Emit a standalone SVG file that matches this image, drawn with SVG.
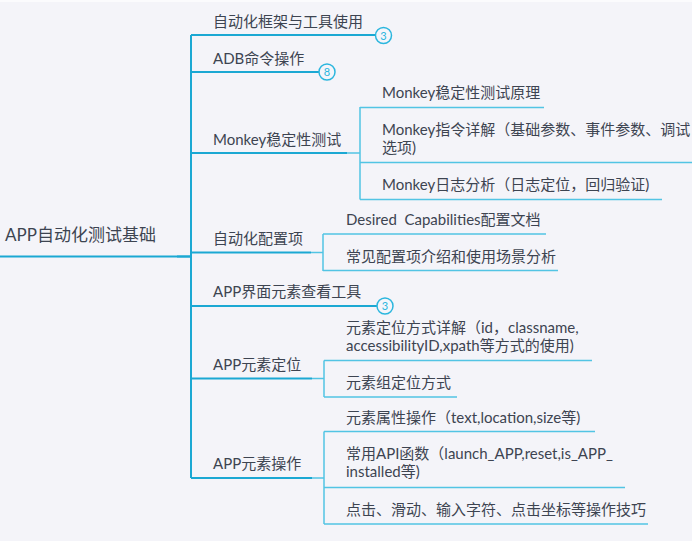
<svg xmlns="http://www.w3.org/2000/svg" width="692" height="541" viewBox="0 0 692 541">
<style>
text{font-family:Lato,"Noto Sans CJK SC",sans-serif;font-size:15px;fill:#3d4451;}
.root{font-size:17px;}
.main{stroke:#1ba8d3;stroke-width:2;fill:none;}
.sub{stroke:#52c4e4;stroke-width:1.5;fill:none;}
.badge circle{fill:#f5f5fa;stroke:#2bb6de;stroke-width:1.5;}
.badge text{font-size:11px;fill:#2bb6de;text-anchor:middle;}
</style>
<rect x="0" y="0" width="692" height="541" fill="#f4f4f9"/>
<rect x="0" y="0" width="692" height="2" fill="#fbfbfd"/>
<g id="connectors">
<path class="main" d="M0 256.5H191"/>
<path class="main" stroke-width="3.5" d="M177 256.5H191"/>
<path class="main" stroke-width="2.5" d="M191 35V478"/>
<path class="main" d="M191 35H376"/>
<path class="main" d="M191 72H319"/>
<path class="main" d="M191 153H347"/>
<path class="main" d="M191 252.5H311"/>
<path class="main" d="M191 306H377"/>
<path class="main" d="M191 378.5H312"/>
<path class="main" d="M191 478H312"/>
<path class="sub" d="M347 153H360M360 107V199.5M360 107.5H544M360 162.5H692M360 199.5H662"/>
<path class="sub" d="M311 252.5H323M323 234V271M323 234H546M323 270.5H558"/>
<path class="sub" d="M312 378.5H324M324 360.5V397M324 360.5H592M324 397H457"/>
<path class="sub" d="M312 478H324M324 431.5V524M324 431.5H595M324 487.5H625M324 524H648"/>
</g>
<g id="root"><text class="root" x="5" y="241">APP自动化测试基础</text></g>
<g id="n1"><text x="213" y="27">自动化框架与工具使用</text>
<g class="badge"><circle cx="383.5" cy="35.5" r="8"/><text x="383.5" y="39.5">3</text></g></g>
<g id="n2"><text x="213" y="64">ADB命令操作</text>
<g class="badge"><circle cx="327" cy="72" r="8"/><text x="327" y="76">8</text></g></g>
<g id="n3"><text x="213" y="145">Monkey稳定性测试</text></g>
<g id="n3a"><text x="382" y="98">Monkey稳定性测试原理</text></g>
<g id="n3b"><text x="382" y="135">Monkey指令详解（基础参数、事件参数、调试</text><text x="382" y="153">选项)</text></g>
<g id="n3c"><text x="382" y="190">Monkey日志分析（日志定位，回归验证)</text></g>
<g id="n4"><text x="213" y="244">自动化配置项</text></g>
<g id="n4a"><text x="346" y="225" xml:space="preserve" style="white-space:pre">Desired  Capabilities配置文档</text></g>
<g id="n4b"><text x="346" y="262">常见配置项介绍和使用场景分析</text></g>
<g id="n5"><text x="213" y="297">APP界面元素查看工具</text>
<g class="badge"><circle cx="385" cy="306" r="8"/><text x="385" y="310">3</text></g></g>
<g id="n6"><text x="213" y="370">APP元素定位</text></g>
<g id="n6a"><text x="346" y="333">元素定位方式详解（id，classname,</text><text x="346" y="351">accessibilityID,xpath等方式的使用)</text></g>
<g id="n6b"><text x="346" y="388">元素组定位方式</text></g>
<g id="n7"><text x="213" y="469">APP元素操作</text></g>
<g id="n7a"><text x="346" y="423">元素属性操作（text,location,size等)</text></g>
<g id="n7b"><text x="346" y="459">常用API函数（launch_APP,reset,is_APP_</text><text x="346" y="477">installed等)</text></g>
<g id="n7c"><text x="346" y="515">点击、滑动、输入字符、点击坐标等操作技巧</text></g>
</svg>
